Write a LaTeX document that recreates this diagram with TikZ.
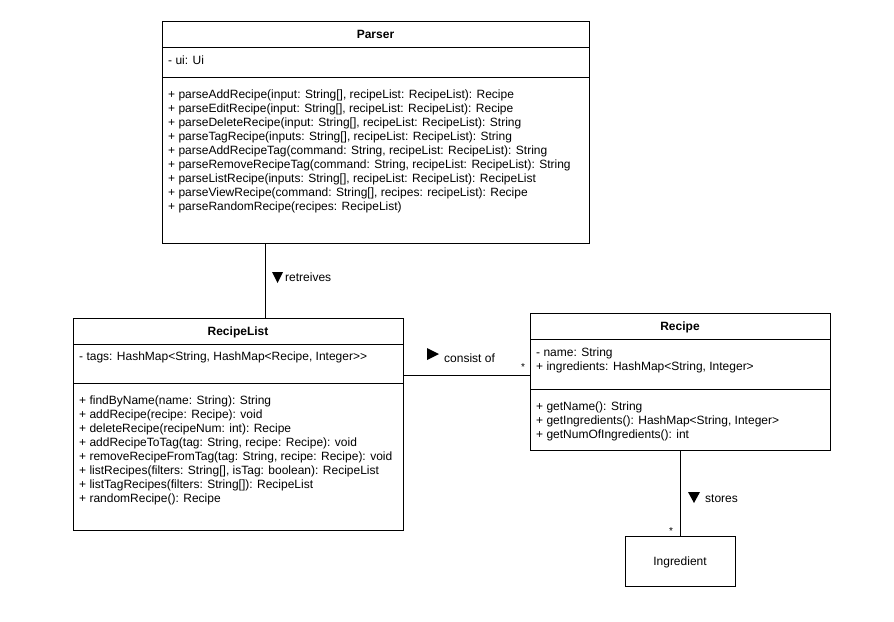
\documentclass[tikz,border=0pt]{standalone}
\usepackage{fontspec}
\setmainfont{Liberation Sans}[Ligatures=TeXOff]
\begin{document}
\begin{tikzpicture}[x=1pt,y=-1pt,
  umlbox/.style={draw=black, line width=1pt, rectangle, inner sep=0pt, anchor=north west},
  sepline/.style={draw=black, line width=1pt},
  conn/.style={draw=black, line width=1pt},
  ttl/.style={anchor=base, inner sep=0pt, font=\fontsize{12}{14}\selectfont\bfseries},
  txt/.style={anchor=base west, inner sep=0pt, font=\fontsize{12}{14}\selectfont},
  lbl/.style={anchor=base west, inner sep=0pt, font=\fontsize{12}{14}\selectfont},
  mult/.style={anchor=base, inner sep=0pt, font=\fontsize{10}{12}\selectfont}]
\useasboundingbox[fill=white] (0,0) rectangle (894,621);

% ---------------- Parser ----------------
\node[umlbox, minimum width=427pt, minimum height=222pt] (parser) at (162,21) {};
\draw[sepline] (162,47) -- (589,47);
\draw[sepline] (162,77) -- (589,77);
\node[ttl] (parserTitle) at (375.5,38.5) {Parser};
\node[txt] (parserAttr) at (168,64.5) {- ui: Ui};
\foreach \t [count=\i from 0] in {
  {+ parseAddRecipe(input: String[], recipeList: RecipeList): Recipe},
  {+ parseEditRecipe(input: String[], recipeList: RecipeList): Recipe},
  {+ parseDeleteRecipe(input: String[], recipeList: RecipeList): String},
  {+ parseTagRecipe(inputs: String[], recipeList: RecipeList): String},
  {+ parseAddRecipeTag(command: String, recipeList: RecipeList): String},
  {+ parseRemoveRecipeTag(command: String, recipeList: RecipeList): String},
  {+ parseListRecipe(inputs: String[], recipeList: RecipeList): RecipeList},
  {+ parseViewRecipe(command: String[], recipes: recipeList): Recipe},
  {+ parseRandomRecipe(recipes: RecipeList)}}
  \node[txt] (pm\i) at (168,98.5+14*\i) {\t};

% ---------------- RecipeList ----------------
\node[umlbox, minimum width=330pt, minimum height=212pt] (rlist) at (73,318) {};
\draw[sepline] (73,344) -- (403,344);
\draw[sepline] (73,383) -- (403,383);
\node[ttl] (rlistTitle) at (238,335.5) {RecipeList};
\node[txt] (rlistAttr) at (79,360.5) {- tags: HashMap<String, HashMap<Recipe, Integer>>};
\foreach \t [count=\i from 0] in {
  {+ findByName(name: String): String},
  {+ addRecipe(recipe: Recipe): void},
  {+ deleteRecipe(recipeNum: int): Recipe},
  {+ addRecipeToTag(tag: String, recipe: Recipe): void},
  {+ removeRecipeFromTag(tag: String, recipe: Recipe): void},
  {+ listRecipes(filters: String[], isTag: boolean): RecipeList},
  {+ listTagRecipes(filters: String[]): RecipeList},
  {+ randomRecipe(): Recipe}}
  \node[txt] (rm\i) at (79,404.5+14*\i) {\t};

% ---------------- Recipe ----------------
\node[umlbox, minimum width=300pt, minimum height=137pt] (recipe) at (530,313) {};
\draw[sepline] (530,339) -- (830,339);
\draw[sepline] (530,389) -- (830,389);
\node[ttl] (recipeTitle) at (680,330.5) {Recipe};
\node[txt] (recipeA0) at (536,356.5) {- name: String};
\node[txt] (recipeA1) at (536,370.5) {+ ingredients: HashMap<String, Integer>};
\foreach \t [count=\i from 0] in {
  {+ getName(): String},
  {+ getIngredients(): HashMap<String, Integer>},
  {+ getNumOfIngredients(): int}}
  \node[txt] (em\i) at (536,410.5+14*\i) {\t};

% ---------------- Ingredient ----------------
\node[umlbox, minimum width=110pt, minimum height=50pt] (ingredient) at (625,536) {};
\node[anchor=base, inner sep=0pt, font=\fontsize{12}{14}\selectfont] (ingredientTitle) at (680,565) {Ingredient};

% ---------------- Associations ----------------
\path (rlist.north west) ++(192,0) coordinate (rlTop);
\draw[conn] (parser.south -| rlTop) -- (rlTop);
\fill (272,272) -- (283,272) -- (277.5,283) -- cycle;
\node[lbl] (lblRetrieves) at (285,281.5) {retreives};

\path (rlist.north east) ++(0,57) coordinate (rlRight);
\draw[conn] (rlRight) -- (rlRight -| recipe.west);
\fill (427,348) -- (439,354) -- (427,360) -- cycle;
\node[lbl] (lblConsist) at (444,362) {consist of};
\node[mult] (multRecipe) at (523,370) {*};

\draw[conn] (recipe.south) -- (ingredient.north);
\fill (688,492) -- (700,492) -- (694,503) -- cycle;
\node[lbl] (lblStores) at (705,502) {stores};
\node[mult] (multIngr) at (671,534) {*};
\end{tikzpicture}
\end{document}
